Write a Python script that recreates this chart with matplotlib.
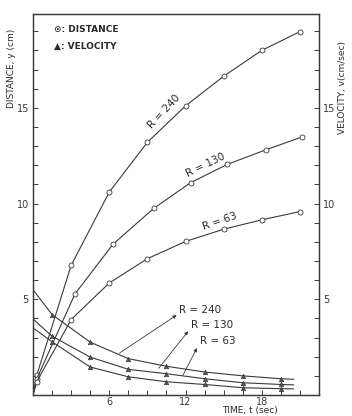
import matplotlib
matplotlib.use("Agg")
import matplotlib.pyplot as plt
from matplotlib.ticker import MultipleLocator, FixedLocator

# distance (circles)
t_d240 = [0, 0.3, 3, 6, 9, 12, 15, 18, 21]
d240 = [0, 1.04, 6.77, 10.6, 13.2, 15.1, 16.65, 18.0, 18.98]
t_d130 = [0, 0.3, 3.3, 6.3, 9.5, 12.4, 15.3, 18.3, 21.2]
d130 = [0, 0.85, 5.28, 7.88, 9.75, 11.09, 12.05, 12.8, 13.49]
t_d63 = [0, 0.3, 3, 6, 9, 12, 15, 18, 21]
d63 = [0, 0.7, 3.94, 5.85, 7.12, 8.02, 8.66, 9.15, 9.58]

# velocity (triangles); first and last entries are line ends without markers
t_v = [0, 1.5, 4.5, 7.5, 10.5, 13.5, 16.5, 19.5, 20.5]
v240 = [5.5, 4.2, 2.76, 1.9, 1.5, 1.2, 1.0, 0.85, 0.82]
v130 = [3.97, 3.07, 1.98, 1.34, 1.11, 0.85, 0.64, 0.55, 0.53]
v63 = [3.5, 2.78, 1.46, 0.95, 0.69, 0.55, 0.38, 0.33, 0.32]

x_ticks = [6, 12, 18]
y_ticks = [5, 10, 15]

ink = "#3a3a3a"
plt.rcParams.update({
    'font.family': 'DejaVu Sans',
    'font.size': 6.5,
    'axes.edgecolor': ink,
    'axes.linewidth': 0.9,
    'xtick.color': ink,
    'ytick.color': ink,
    'text.color': '#2a2a2a',
})

fig = plt.figure(figsize=(3.52, 4.16), dpi=100)
ax = fig.add_axes([33 / 352, 1 - 395 / 416, (319 - 33) / 352, (395 - 14) / 416])

line_kw = dict(color=ink, linewidth=0.8)
for t, d in [(t_d240, d240), (t_d130, d130), (t_d63, d63)]:
    ax.plot(t, d, marker='o', markersize=3.6, markerfacecolor='white',
            markeredgecolor=ink, markeredgewidth=0.6, markevery=list(range(1, len(t))), **line_kw)
for v in [v240, v130, v63]:
    ax.plot(t_v, v, marker='^', markersize=3.2, markerfacecolor='#555555',
            markeredgecolor=ink, markeredgewidth=0.5, markevery=list(range(1, len(t_v) - 1)), **line_kw)

ax.set_xlim(0, 22.5)
ax.set_ylim(0, 19.9)
ax.xaxis.set_major_locator(FixedLocator(x_ticks))
ax.xaxis.set_minor_locator(MultipleLocator(1.5))
ax.yaxis.set_major_locator(FixedLocator(y_ticks))
ax.yaxis.set_minor_locator(MultipleLocator(1))
ax.tick_params(which='both', direction='in', length=3.5, width=0.7, labelsize=7, pad=3)
ax.tick_params(axis='x', pad=1.5)

ax2 = ax.twinx()
ax2.set_ylim(ax.get_ylim())
ax2.yaxis.set_major_locator(FixedLocator(y_ticks))
ax2.yaxis.set_minor_locator(MultipleLocator(1))
ax2.tick_params(which='both', direction='in', length=3.5, width=0.7, labelsize=7, pad=3)

# curve labels
ax.text(10.3, 14.8, "R = 240", rotation=47, ha='center', va='center', fontsize=7.5)
ax.text(13.6, 12.0, "R = 130", rotation=26, ha='center', va='center', fontsize=7.5)
ax.text(14.7, 9.06, "R = 63", rotation=19, ha='center', va='center', fontsize=7.5)

# velocity annotations: arrow runs from the curve up toward its label
arrow_kw = dict(arrowstyle='-|>', mutation_scale=5, color=ink, linewidth=0.6, shrinkA=0, shrinkB=0)
for tail, head, pos, label in [((6.8, 2.19), (11.3, 4.17), (11.5, 4.45), "R = 240"),
                               ((9.9, 1.4), (12.2, 3.33), (12.4, 3.65), "R = 130"),
                               ((11.8, 1.04), (12.9, 2.45), (13.1, 2.8), "R = 63")]:
    ax.annotate("", xy=head, xytext=tail, arrowprops=arrow_kw)
    ax.text(pos[0], pos[1], label, ha='left', va='center', fontsize=7.5)

# legend text
ax.text(0.075, 0.96, "⊙: DISTANCE", transform=ax.transAxes, fontsize=6.5,
        fontweight='bold', va='center', ha='left')
ax.text(0.075, 0.915, "▲: VELOCITY", transform=ax.transAxes, fontsize=6.5,
        fontweight='bold', va='center', ha='left')

fig.text(12 / 352, 1 - 68 / 416, "DISTANCE, y (cm)", rotation=90, ha='center', va='center', fontsize=6.5)
fig.text(343 / 352, 1 - 88 / 416, "VELOCITY, v(cm/sec)", rotation=90, ha='center', va='center', fontsize=6.5)
fig.text(250 / 352, 1 - 411 / 416, "TIME, t (sec)", ha='center', va='center', fontsize=6.5)

fig.savefig("out.png", dpi=100, facecolor='white')
